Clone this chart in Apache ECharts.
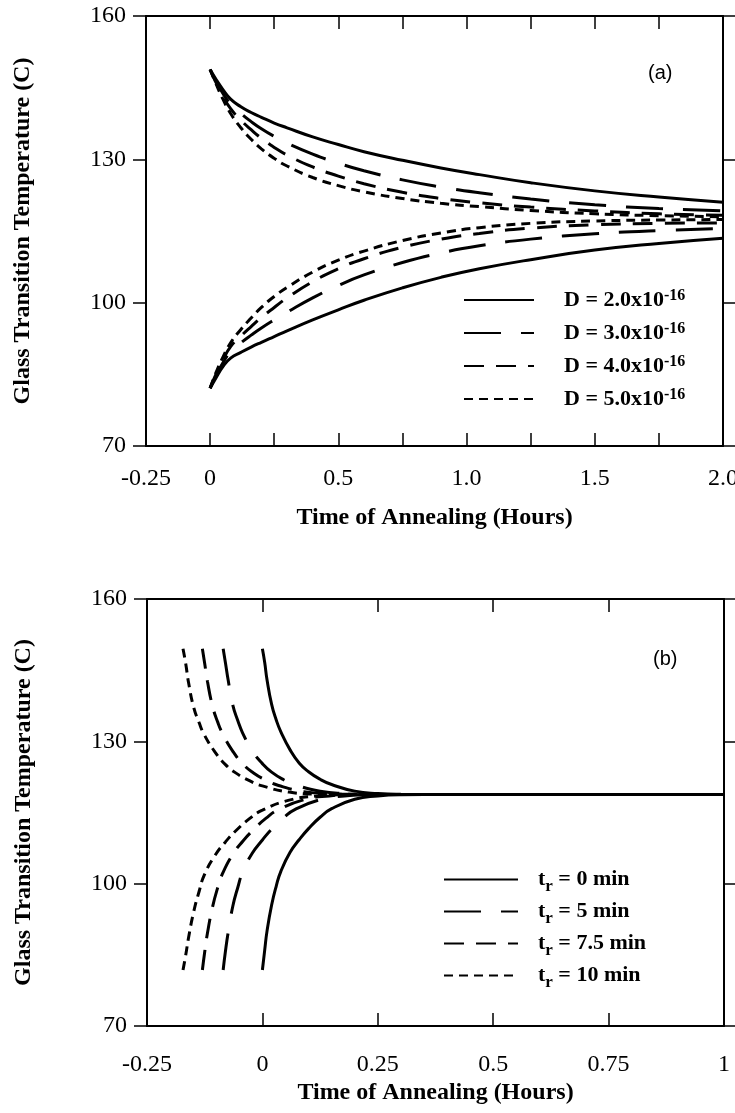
<!DOCTYPE html>
<html>
<head>
<meta charset="utf-8">
<script src="https://cdn.jsdelivr.net/npm/echarts@6/dist/echarts.min.js"></script>
<style>
  html, body { margin: 0; padding: 0; background: #fff; }
  #chart { width: 735px; height: 1113px; }
</style>
</head>
<body>
<div id="chart"></div>
<script>
// ---------- Panel (a): Tg vs annealing time for four diffusivities ----------
const tA = [0, 0.02, 0.05, 0.08, 0.12, 0.16, 0.2, 0.25, 0.3, 0.4, 0.5, 0.6, 0.75, 0.9, 1.05, 1.25, 1.5, 1.75, 2.0];
const d2Upper = [148.8, 147.0, 144.6, 142.6, 141.0, 139.8, 138.8, 137.6, 136.6, 134.7, 133.1, 131.6, 129.8, 128.2, 126.8, 125.1, 123.4, 122.1, 121.0];
const d3Upper = [148.8, 146.6, 143.8, 141.6, 139.6, 137.9, 136.4, 134.8, 133.4, 131.1, 129.2, 127.6, 125.7, 124.2, 123.0, 121.7, 120.5, 119.7, 119.2];
const d4Upper = [148.8, 146.4, 143.2, 140.6, 138.2, 136.2, 134.4, 132.5, 130.9, 128.4, 126.5, 124.9, 123.1, 121.8, 120.9, 120.0, 119.2, 118.6, 118.3];
const d5Upper = [148.8, 146.2, 142.6, 139.6, 136.6, 134.2, 132.2, 130.2, 128.6, 126.2, 124.5, 123.2, 121.8, 120.8, 120.1, 119.3, 118.6, 118.2, 118.0];
const d2Lower = [82.1, 84.0, 86.6, 88.4, 89.6, 90.7, 91.7, 92.9, 94.1, 96.4, 98.5, 100.5, 103.1, 105.3, 107.1, 109.0, 111.0, 112.4, 113.5];
const d3Lower = [82.1, 84.4, 87.4, 89.8, 91.6, 93.2, 94.7, 96.4, 98.0, 101.0, 103.6, 105.8, 108.4, 110.4, 111.9, 113.3, 114.4, 115.1, 115.5];
const d4Lower = [82.1, 84.7, 88.0, 90.8, 93.0, 95.0, 96.9, 99.0, 101.0, 104.4, 107.1, 109.2, 111.6, 113.3, 114.5, 115.6, 116.3, 116.6, 116.7];
const d5Lower = [82.1, 85.0, 88.6, 91.6, 94.4, 96.8, 99.0, 101.3, 103.2, 106.4, 108.9, 110.8, 113.0, 114.6, 115.7, 116.6, 117.1, 117.3, 117.4];

const legendNamesA = ['D2', 'D3', 'D4', 'D5'];
const legendMantA = ['2.0', '3.0', '4.0', '5.0'];
const legendExpA = ['-16', '-16', '-16', '-16'];

// ---------- Panel (b): Tg vs annealing time for four ramp times ----------
const t0 = [0, 0.005, 0.01, 0.02, 0.03, 0.04, 0.06, 0.08, 0.1, 0.125, 0.15, 0.2, 0.25, 0.3, 0.4, 0.6, 1.0];
const t0Upper = [149.5, 146.6, 143.0, 137.8, 134.5, 132.0, 128.2, 125.4, 123.6, 122.0, 120.9, 119.5, 119.0, 118.85, 118.8, 118.8, 118.8];
const t0Lower = [81.8, 86.0, 90.0, 95.5, 99.5, 102.6, 106.6, 109.3, 111.6, 114.0, 115.8, 117.8, 118.5, 118.75, 118.8, 118.8, 118.8];

const t5 = [-0.085, -0.08, -0.074, -0.064, -0.053, -0.043, -0.022, 0.0, 0.02, 0.046, 0.072, 0.125, 0.178, 0.23, 0.335, 0.6, 1.0];
const t5Upper = [149.5, 146.5, 142.8, 137.6, 134.3, 131.8, 128.0, 125.3, 123.5, 121.9, 120.8, 119.5, 119.0, 118.85, 118.8, 118.8, 118.8];
const t5Lower = [81.8, 85.8, 89.8, 95.3, 99.3, 102.4, 106.4, 109.2, 111.5, 113.9, 115.7, 117.7, 118.5, 118.75, 118.8, 118.8, 118.8];

const t75 = [-0.13, -0.125, -0.119, -0.108, -0.097, -0.086, -0.064, -0.042, -0.02, 0.008, 0.035, 0.09, 0.145, 0.2, 0.31, 0.6, 1.0];
const t75Upper = [149.5, 146.4, 142.6, 137.4, 134.1, 131.6, 127.9, 125.2, 123.4, 121.8, 120.7, 119.4, 118.95, 118.85, 118.8, 118.8, 118.8];
const t75Lower = [81.8, 85.6, 89.6, 95.1, 99.1, 102.2, 106.2, 109.0, 111.3, 113.8, 115.6, 117.7, 118.5, 118.75, 118.8, 118.8, 118.8];

const t10 = [-0.172, -0.166, -0.16, -0.149, -0.137, -0.126, -0.103, -0.08, -0.057, -0.028, 0.0, 0.058, 0.115, 0.173, 0.288, 0.6, 1.0];
const t10Upper = [149.5, 146.3, 142.4, 137.2, 133.9, 131.4, 127.8, 125.1, 123.3, 121.7, 120.6, 119.3, 118.9, 118.85, 118.8, 118.8, 118.8];
const t10Lower = [81.8, 85.0, 88.6, 94.0, 98.4, 101.8, 105.9, 108.8, 111.2, 113.7, 115.5, 117.6, 118.45, 118.75, 118.8, 118.8, 118.8];

const legendNamesB = ['tr0', 'tr5', 'tr75', 'tr10'];
const legendValB = ['0', '5', '7.5', '10'];

// ---------- Axis ticks ----------
const yTickStep = 30;
const tickValsA = [-0.25, 0, 0.5, 1, 1.5, 2];
const tickTextA = ['-0.25', '0', '0.5', '1.0', '1.5', '2.0'];
const tickValsB = [-0.25, 0, 0.25, 0.5, 0.75, 1];
const tickTextB = ['-0.25', '0', '0.25', '0.5', '0.75', '1'];

// ---------- Styling ----------
const SERIF = '"Liberation Serif", "Times New Roman", serif';
const SANS = '"Liberation Sans", Arial, sans-serif';
const INK = '#000';
const dashes = {
  solid: 'solid',
  longDash: [37, 20],
  midDash: [20, 12],
  shortDash: [9, 6]
};

function pairs(xs, ys) { return xs.map((x, i) => [x, ys[i]]); }
function pickLabel(vals, texts) {
  return v => {
    const i = vals.findIndex(u => Math.abs(u - v) < 1e-6);
    return i < 0 ? '' : texts[i];
  };
}

function curve(name, xs, ys, dash, xIdx, yIdx) {
  return {
    type: 'line', name, xAxisIndex: xIdx, yAxisIndex: yIdx,
    data: pairs(xs, ys),
    showSymbol: false, symbol: 'none',
    smooth: 0.5,
    lineStyle: { color: INK, width: 3, type: dash },
    itemStyle: { color: INK },
    silent: true, animation: false
  };
}

function xAxes(gridIndex, min, max, vals, texts, labelMargin, nameGap) {
  const common = {
    type: 'value', gridIndex, min, max, interval: 0.25,
    splitLine: { show: false },
    axisLine: { show: true, onZero: false, lineStyle: { color: INK, width: 2 } },
    axisTick: { show: true, inside: true, length: 13, lineStyle: { color: INK, width: 1.5 } }
  };
  return [
    Object.assign({}, common, {
      position: 'bottom',
      axisLabel: {
        show: true, color: INK, fontFamily: SERIF, fontSize: 24, margin: labelMargin,
        showMinLabel: true, showMaxLabel: true, hideOverlap: false,
        formatter: pickLabel(vals, texts)
      },
      name: 'Time of Annealing (Hours)', nameLocation: 'middle', nameGap,
      nameTextStyle: { color: INK, fontFamily: SERIF, fontWeight: 'bold', fontSize: 24 }
    }),
    Object.assign({}, common, { position: 'top', axisLabel: { show: false } })
  ];
}

function yAxes(gridIndex) {
  const common = {
    type: 'value', gridIndex, min: 70, max: 160, interval: yTickStep,
    splitLine: { show: false },
    axisLine: { show: true, onZero: false, lineStyle: { color: INK, width: 2 } },
    axisTick: { show: true, inside: false, length: 13, lineStyle: { color: INK, width: 1.5 } }
  };
  return [
    Object.assign({}, common, {
      position: 'left',
      axisLabel: { show: true, color: INK, fontFamily: SERIF, fontSize: 24, margin: 20 },
      name: 'Glass Transition Temperature (C)', nameLocation: 'middle', nameGap: 111,
      nameRotate: 90,
      nameTextStyle: { color: INK, fontFamily: SERIF, fontWeight: 'bold', fontSize: 24 }
    }),
    Object.assign({}, common, { position: 'right', axisLabel: { show: false } })
  ];
}

const series = [
  // panel (a)
  curve('D2', tA, d2Upper, dashes.solid, 0, 0),
  curve('D2', tA, d2Lower, dashes.solid, 0, 0),
  curve('D3', tA, d3Upper, dashes.longDash, 0, 0),
  curve('D3', tA, d3Lower, dashes.longDash, 0, 0),
  curve('D4', tA, d4Upper, dashes.midDash, 0, 0),
  curve('D4', tA, d4Lower, dashes.midDash, 0, 0),
  curve('D5', tA, d5Upper, dashes.shortDash, 0, 0),
  curve('D5', tA, d5Lower, dashes.shortDash, 0, 0),
  // panel (b)
  curve('tr0', t0, t0Upper, dashes.solid, 2, 2),
  curve('tr0', t0, t0Lower, dashes.solid, 2, 2),
  curve('tr5', t5, t5Upper, dashes.longDash, 2, 2),
  curve('tr5', t5, t5Lower, dashes.longDash, 2, 2),
  curve('tr75', t75, t75Upper, dashes.midDash, 2, 2),
  curve('tr75', t75, t75Lower, dashes.midDash, 2, 2),
  curve('tr10', t10, t10Upper, dashes.shortDash, 2, 2),
  curve('tr10', t10, t10Lower, dashes.shortDash, 2, 2)
];

const legendText = {
  color: INK, fontFamily: SERIF, fontWeight: 'bold', fontSize: 22
};

const option = {
  backgroundColor: '#fff',
  animation: false,
  title: [
    { text: '(a)', left: 648, top: 63, padding: 0, textStyle: { fontFamily: SANS, fontSize: 20, fontWeight: 'normal', color: INK } },
    { text: '(b)', left: 653, top: 649, padding: 0, textStyle: { fontFamily: SANS, fontSize: 20, fontWeight: 'normal', color: INK } }
  ],
  grid: [
    { left: 146, top: 16, width: 577, height: 430, containLabel: false, outerBoundsMode: 'none' },
    { left: 147, top: 599, width: 577, height: 427, containLabel: false, outerBoundsMode: 'none' }
  ],
  xAxis: [
    ...xAxes(0, -0.25, 2, tickValsA, tickTextA, 21, 60),
    ...xAxes(1, -0.25, 1, tickValsB, tickTextB, 27, 55)
  ],
  yAxis: [
    ...yAxes(0),
    ...yAxes(1)
  ],
  legend: [
    {
      data: legendNamesA, orient: 'vertical', left: 463, top: 288, padding: 0,
      itemWidth: 70, itemHeight: 14, itemGap: 1, selectedMode: false,
      itemStyle: { opacity: 0 },
      formatter: name => {
        const i = legendNamesA.indexOf(name);
        return '{m|D = ' + legendMantA[i] + 'x10}{s|' + legendExpA[i] + '}';
      },
      textStyle: Object.assign({}, legendText, {
        padding: [0, 0, 0, 25],
        rich: {
          m: Object.assign({}, legendText, { lineHeight: 24, verticalAlign: 'middle' }),
          s: Object.assign({}, legendText, { fontSize: 16, lineHeight: 16, padding: [0, 0, 16, 0], verticalAlign: 'top' })
        }
      })
    },
    {
      data: legendNamesB, orient: 'vertical', left: 443, top: 864, padding: 0,
      itemWidth: 74, itemHeight: 14, itemGap: 1, selectedMode: false,
      itemStyle: { opacity: 0 },
      formatter: name => {
        const i = legendNamesB.indexOf(name);
        return '{t|t}{r|r}{m| = ' + legendValB[i] + ' min}';
      },
      textStyle: Object.assign({}, legendText, {
        padding: [0, 0, 0, 15],
        rich: {
          t: Object.assign({}, legendText, { lineHeight: 24 }),
          r: Object.assign({}, legendText, { fontSize: 17, lineHeight: 16, padding: [14, 0, 0, 0] }),
          m: Object.assign({}, legendText, { lineHeight: 24 })
        }
      })
    }
  ],
  series
};

const chart = echarts.init(document.getElementById('chart'), null, { renderer: 'canvas' });
chart.setOption(option);
</script>
</body>
</html>
